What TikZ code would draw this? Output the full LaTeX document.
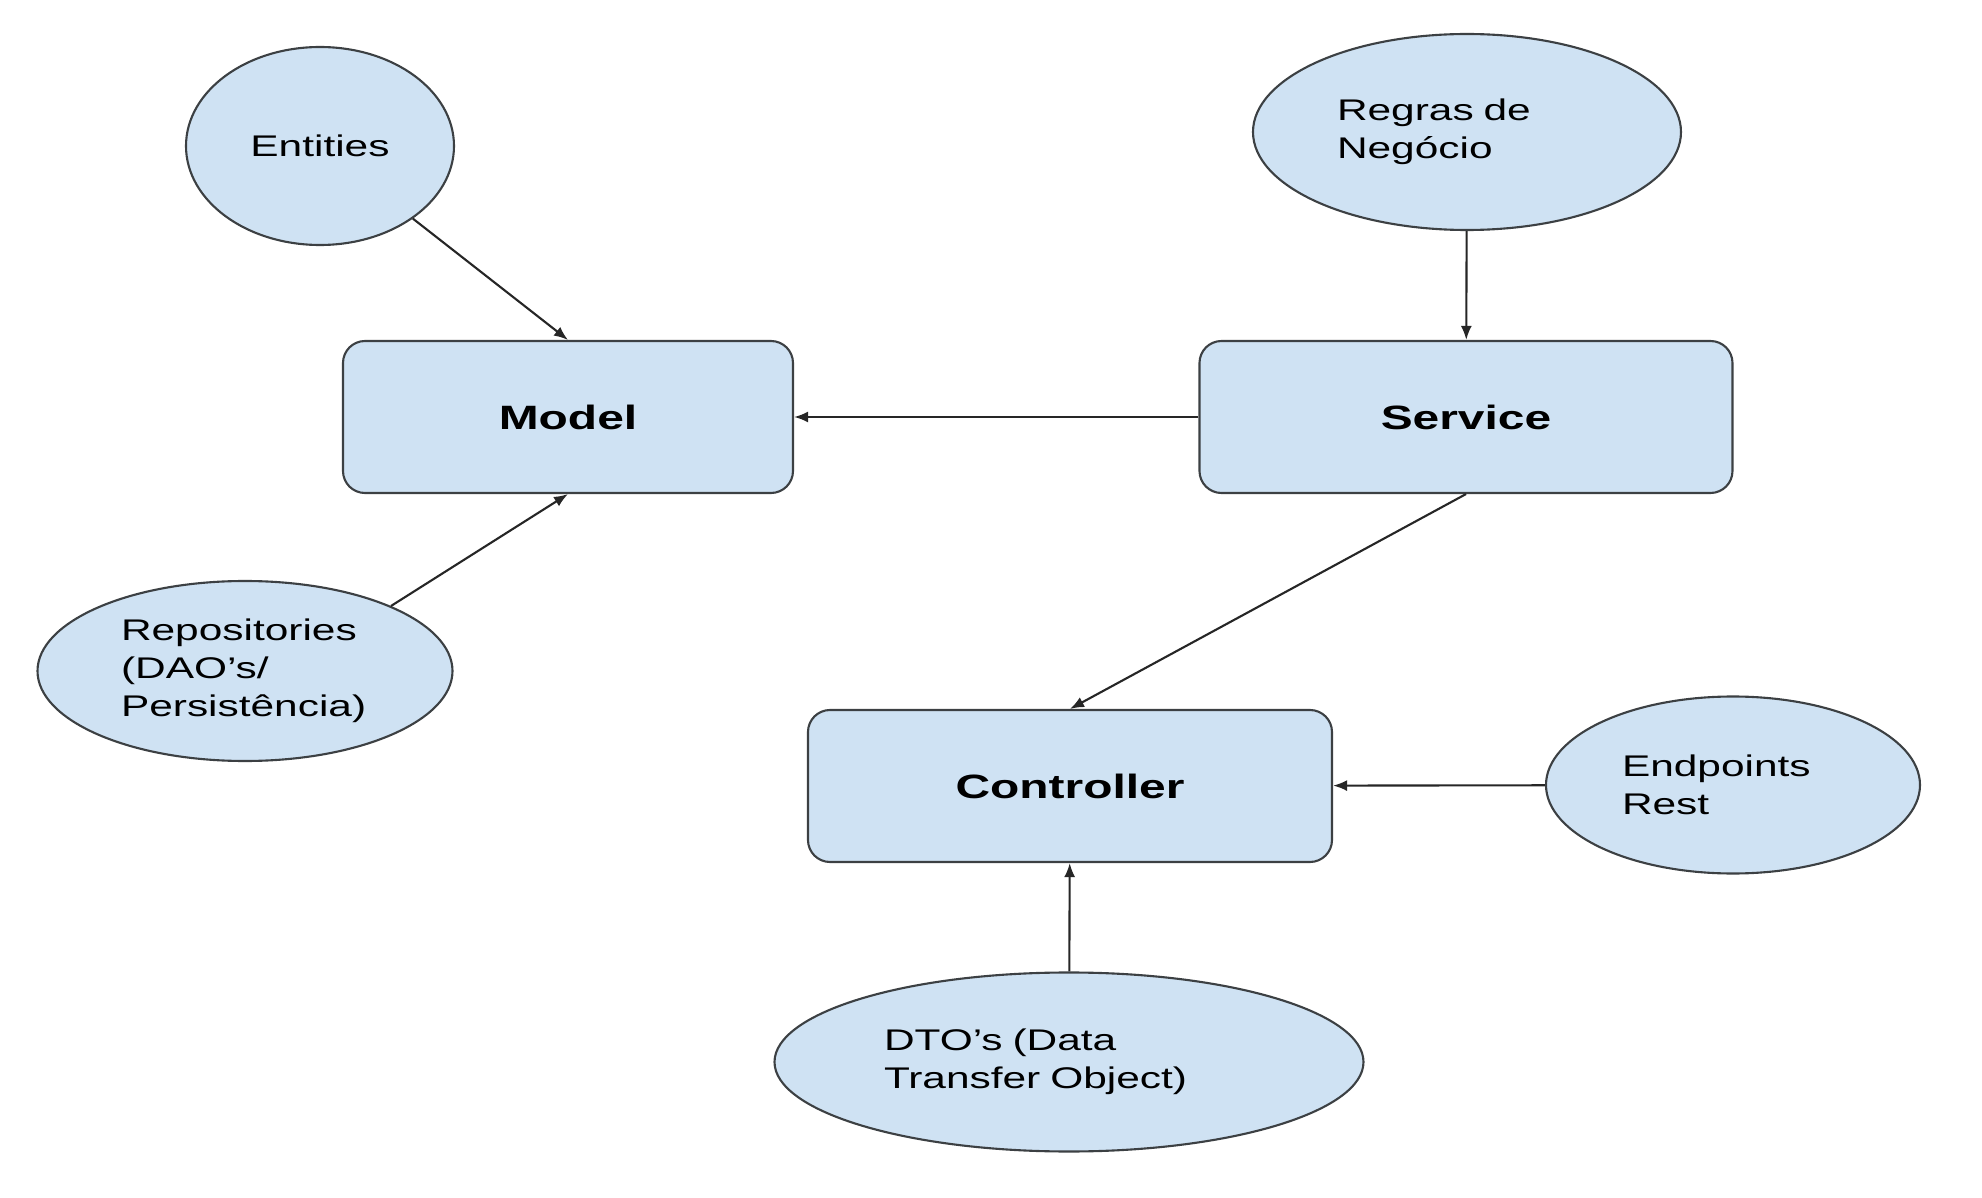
\documentclass[tikz,border=0pt]{standalone}
\usepackage{fontspec}
\setmainfont{Liberation Sans}[FakeStretch=1.42]
\usetikzlibrary{shapes.geometric,arrows.meta}

\definecolor{boxblue}{RGB}{207,226,243}
\definecolor{outline}{RGB}{60,64,67}

\begin{document}
\begin{tikzpicture}[
    % layer boxes and their satellites
    layer/.style={rectangle, draw=outline, line width=0.6pt, fill=boxblue,
        rounded corners=0.22cm, minimum height=1.52cm, inner sep=0pt,
        font=\fontsize{9.6}{11}\selectfont\bfseries},
    part/.style={ellipse, draw=outline, line width=0.6pt, fill=boxblue,
        inner sep=0pt, align=left, font=\fontsize{8.5}{10.8}\selectfont},
    edge/.style={draw=black!85, line width=0.6pt,
        -{Latex[length=1.4mm,width=1.1mm]}},
]
\useasboundingbox (0,0) rectangle (19.82,11.97);

% =========================================================
% Layers
% =========================================================
\node[layer, minimum width=4.50cm] (model)   at (5.68,  7.80) {Model};
\node[layer, minimum width=5.33cm] (service) at (14.66, 7.80) {Service};
\node[layer, minimum width=5.24cm] (ctrl)    at (10.70, 4.11) {Controller};

% =========================================================
% Satellites
% =========================================================
\node[part, align=center, minimum width=2.68cm, minimum height=1.98cm]
    (ent) at (3.20, 10.51) {Entities};
\node[part, text width=2.60cm, minimum width=4.28cm, minimum height=1.96cm]
    (rules) at (14.67, 10.65) {Regras de\\Negócio};
\node[part, text width=2.48cm, minimum width=4.15cm, minimum height=1.80cm]
    (repo) at (2.45, 5.26) {Repositories\\(DAO’s/\\Persistência)};
\node[part, text width=2.22cm, minimum width=3.74cm, minimum height=1.77cm]
    (rest) at (17.33, 4.12) {Endpoints\\Rest};
\node[part, text width=3.70cm, minimum width=5.89cm, minimum height=1.79cm]
    (dto) at (10.69, 1.35) {DTO’s (Data\\Transfer Object)};

% =========================================================
% Connectors
% =========================================================
\draw[edge] (ent) -- (model.north);
\draw[edge] (repo.24) -- (model.south);
\draw[edge] (service) -- (model);
\draw[edge] (rules) -- (service);
\draw[edge] (service.south) -- (ctrl.north);
\draw[edge] (rest) -- (ctrl);
\draw[edge] (dto) -- (ctrl);

\end{tikzpicture}
\end{document}
